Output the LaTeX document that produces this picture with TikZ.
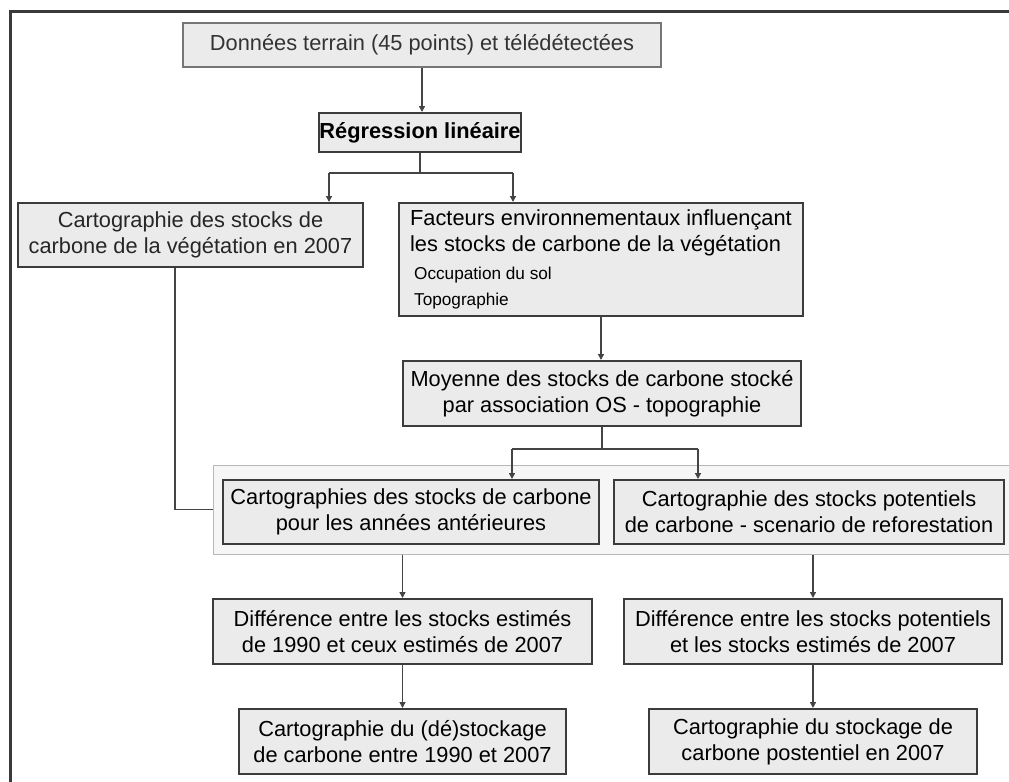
\documentclass[tikz,border=0pt]{standalone}
\usepackage{fontspec}
\setmainfont{Liberation Sans}
\usetikzlibrary{arrows.meta}
\definecolor{boxfill}{HTML}{EBEBEB}
\definecolor{boxline}{HTML}{3C3C3C}
\definecolor{groupfill}{HTML}{F6F6F6}
\definecolor{groupline}{HTML}{B8B8B8}
\definecolor{linkgray}{HTML}{444444}
\definecolor{framegray}{HTML}{3A3A3A}
\newcommand{\smalltxt}{\fontsize{8.6}{12.5}\selectfont}

\begin{document}
\begin{tikzpicture}[
    x=0.5pt, y=-0.5pt,
    font=\fontsize{10.9}{13}\selectfont,
    box/.style={draw=boxline, line width=1pt, fill=boxfill, inner sep=0pt, align=center},
    groupbox/.style={draw=groupline, line width=0.5pt, fill=groupfill, inner sep=0pt},
    link/.style={draw=linkgray, line width=0.7pt},
    arrow/.style={link, -{Triangle[length=3pt, width=3pt]}}
]
\useasboundingbox (0,0) rectangle (1009,782);
\clip (0,0) rectangle (1009,782);
% outer frame
\draw[framegray, line width=1.5pt] (10,800) |- (1030,11);

\node[box, draw=boxline!70, text=black!80, minimum width=239pt, minimum height=22pt] (data) at (422,45) {Donn\'ees terrain (45 points) et t\'el\'ed\'etect\'ees};
\node[box, font=\fontsize{10.9}{13}\selectfont\bfseries, minimum width=101pt, minimum height=19.5pt] (reg) at (420,132.5) {R\'egression lin\'eaire};
\node[box, text=black!85, minimum width=172.5pt, minimum height=32pt] (carto07) at (190.5,235) {Cartographie des stocks de\\carbone de la v\'eg\'etation en 2007};
\node[box, align=left, minimum width=202pt, minimum height=56.5pt] (factors) at (601,259.5) {Facteurs environnementaux influen\c{c}ant\\les stocks de carbone de la v\'eg\'etation\\[1pt]\hspace*{2pt}{\smalltxt Occupation du sol}\\\hspace*{2pt}{\smalltxt Topographie}};
\node[box, minimum width=199pt, minimum height=32.5pt] (mean) at (602,393.5) {Moyenne des stocks de carbone stock\'e\\par association OS - topographie};

\node[groupbox, minimum width=401pt, minimum height=44.5pt] (group) at (614,509.5) {};
\node[box, minimum width=188pt, minimum height=32pt] (past) at (411,512) {Cartographies des stocks de carbone\\pour les ann\'ees ant\'erieures};
\node[box, minimum width=195pt, minimum height=32pt] (potential) at (809,512) {Cartographie des stocks potentiels\\de carbone - scenario de reforestation};

\node[box, minimum width=189.5pt, minimum height=32.5pt] (diffpast) at (402.5,631.5) {Diff\'erence entre les stocks estim\'es\\de 1990 et ceux estim\'es de 2007};
\node[box, minimum width=189pt, minimum height=32.5pt] (diffpot) at (813,631.5) {Diff\'erence entre les stocks potentiels\\et les stocks estim\'es de 2007};
\node[box, minimum width=163.5pt, minimum height=32.5pt] (destock) at (402.5,741.5) {Cartographie du (d\'e)stockage\\de carbone entre 1990 et 2007};
\node[box, minimum width=164pt, minimum height=32.5pt] (stockpot) at (813,741.5) {Cartographie du stockage de\\carbone postentiel en 2007};

% junctions
\coordinate (split1) at (420,173);
\coordinate (in07) at (329,173);
\coordinate (infac) at (513,173);
\coordinate (split2) at (602,449);
\coordinate (inpast) at (512,449);
\coordinate (inpot) at (698,449);

\draw[arrow] (data.south) -- (data.south |- reg.north);
\draw[link] (reg.south) -- (split1);
\draw[link] (in07) -- (infac);
\draw[arrow] (in07) -- (in07 |- carto07.north);
\draw[arrow] (infac) -- (infac |- factors.north);
\draw[arrow] (factors.south) -- (factors.south |- mean.north);
\draw[link] (mean.south) -- (split2);
\draw[link] (inpast) -- (inpot);
\draw[arrow] (inpast) -- (inpast |- past.north);
\draw[arrow] (inpot) -- (inpot |- potential.north);
\draw[link] ([xshift=-7.75pt]carto07.south) |- (group.west);
\draw[arrow] (diffpast.north |- group.south) -- (diffpast.north);
\draw[arrow] (diffpot.north |- group.south) -- (diffpot.north);
\draw[arrow] (diffpast) -- (destock);
\draw[arrow] (diffpot) -- (stockpot);
\end{tikzpicture}
\end{document}
